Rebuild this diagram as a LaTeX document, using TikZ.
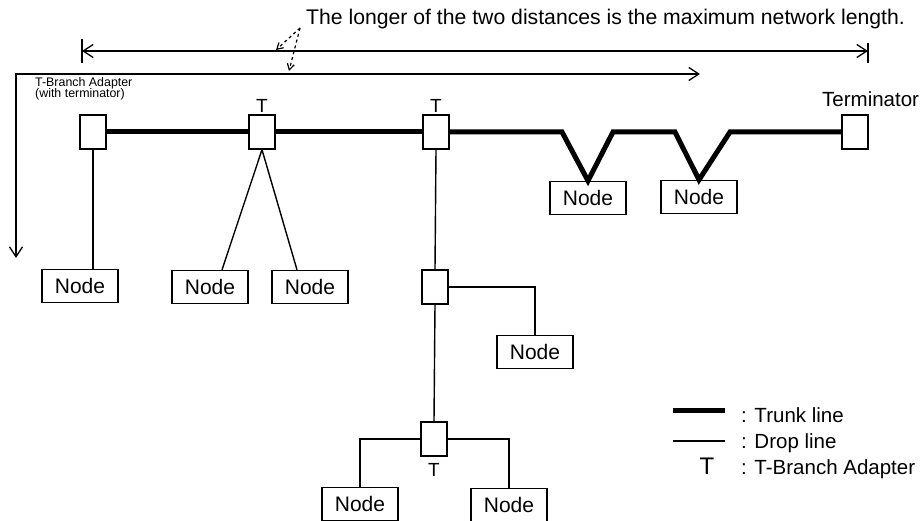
\documentclass[tikz,border=0pt]{standalone}
\usepackage{fontspec}
\setmainfont{Liberation Sans}
\usetikzlibrary{arrows.meta}
\begin{document}
\begin{tikzpicture}[x=1pt,y=-1pt,
  nodebox/.style={draw,line width=1.4pt,minimum width=76pt,minimum height=33pt,inner sep=0pt,font=\fontsize{21}{23}\selectfont},
  adapter/.style={draw,line width=1.4pt,minimum width=26pt,minimum height=34pt,inner sep=0pt},
  trunk/.style={line width=5pt},
  drop/.style={line width=1.4pt},
  dimline/.style={line width=1.3pt,{Straight Barb[length=10pt,width=13pt]}-{Straight Barb[length=10pt,width=13pt]}},
  hint/.style={dashed,line width=1.2pt,-{Straight Barb[length=6pt,width=7pt]}},
  lbl/.style={inner sep=0pt,font=\fontsize{20.5}{22}\selectfont},
  small/.style={inner sep=0pt,font=\fontsize{12.4}{13}\selectfont}
]
\useasboundingbox (0,0) rectangle (922,521);

% adapters and terminator
\node[adapter] (a1) at (93,132) {};
\node[adapter] (a2) at (262,132) {};
\node[adapter] (a3) at (436,132) {};
\node[adapter] (a4) at (435,287) {};
\node[adapter] (a5) at (434,439) {};
\node[adapter] (term) at (855,132) {};

% nodes
\node[nodebox] (n1) at (80,286) {Node};
\node[nodebox] (n2) at (210,287) {Node};
\node[nodebox] (n3) at (310,287) {Node};
\node[nodebox] (v1) at (588,198) {Node};
\node[nodebox] (v2) at (699,197) {Node};
\node[nodebox] (n6) at (535,352) {Node};
\node[nodebox] (n7) at (360,504) {Node};
\node[nodebox] (n8) at (509,505) {Node};

% trunk line
\draw[trunk] (a1.east) -- (a2.west);
\draw[trunk] (a2.east) -- (a3.west);
\draw[trunk,line join=miter] (a3.east) -- (562,132) -- (v1.north) -- (613,132) -- (675,132) -- (v2.north) -- (730,132) -- (term.west);

% drop lines
\draw[drop] (a1.south) -- (a1.south |- n1.north);
\draw[drop] (a2.south) -- ([xshift=12pt]n2.north);
\draw[drop] (a2.south) -- ([xshift=-13pt]n3.north);
\draw[drop] (a3.south) -- (a4.north);
\draw[drop] (a4.east) -| (n6.north);
\draw[drop] (a4.south) -- (a5.north);
\draw[drop] (a5.west) -| (n7.north);
\draw[drop] (a5.east) -| (n8.north);

% labels
\node[lbl,anchor=base,font=\fontsize{19}{20}\selectfont] (t2) at (262,113) {T};
\node[lbl,anchor=base,font=\fontsize{19}{20}\selectfont] (t3) at (436,113) {T};
\node[lbl,anchor=base,font=\fontsize{19}{20}\selectfont] (t5) at (434,477) {T};
\node[small,anchor=base west] (tba) at (35,87) {T-Branch Adapter};
\node[small,anchor=base west] (twt) at (35,98) {(with terminator)};
\node[lbl,anchor=base west] (termlbl) at (822,107) {Terminator};
\node[lbl,anchor=base west,font=\fontsize{21.2}{24}\selectfont] (title) at (306,25) {The longer of the two distances is the maximum network length.};

% dimension arrows
\coordinate (d1l) at (82,51);
\coordinate (d1r) at (868,51);
\draw[dimline] (d1l) -- (d1r);
\draw[line width=1.3pt] (82,39) -- (82,63);
\draw[line width=1.3pt] (868,43) -- (868,63);
\coordinate (d2s) at (16,258);
\coordinate (d2c) at (16,74);
\coordinate (d2e) at (700,74);
\draw[dimline] (d2s) -- (d2c) -- (d2e);
\coordinate (h) at (300,28);
\coordinate (h1) at (276,50);
\coordinate (h2) at (289,71);
\draw[hint] (h) -- (h1);
\draw[hint] (h) -- (h2);

% legend
\draw[trunk] (673,411) -- (725,411);
\draw[drop] (673,441) -- (725,441);
\node[lbl,anchor=base,font=\fontsize{24}{26}\selectfont] (lt) at (707,475) {T};
\node[lbl,anchor=base west] (l1) at (741,423) {: Trunk line};
\node[lbl,anchor=base west] (l2) at (741,449) {: Drop line};
\node[lbl,anchor=base west] (l3) at (741,475) {: T-Branch Adapter};
\end{tikzpicture}
\end{document}
